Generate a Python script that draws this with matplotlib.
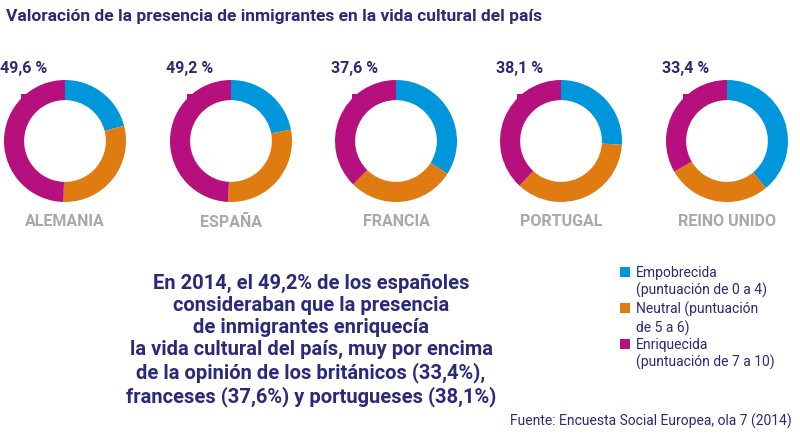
import matplotlib.pyplot as plt
from matplotlib.patches import Rectangle

plt.rcParams["font.family"] = ["Roboto", "DejaVu Sans"]

countries = ["ALEMANIA", "ESPAÑA", "FRANCIA", "PORTUGAL", "REINO UNIDO"]
empobrecida = [21.0, 22.0, 34.0, 26.0, 39.0]
enriquecida = [49.6, 49.2, 37.6, 38.1, 33.4]
neutral = [100 - a - b for a, b in zip(empobrecida, enriquecida)]
pct_labels = ["49,6 %", "49,2 %", "37,6 %", "38,1 %", "33,4 %"]

BLUE = "#0096dc"
ORANGE = "#e07b12"
MAGENTA = "#b5107e"
NAVY = "#2b2979"
GREY = "#a9a9a9"

W, H = 800, 441
fig = plt.figure(figsize=(8, 4.41), dpi=100)
ax = fig.add_axes([0, 0, 1, 1])


def Y(y):
    return H - y


fig.text(6 / W, 1 - 16 / H, "Valoración de la presencia de inmigrantes en la vida cultural del país",
         fontsize=12.5, fontweight="bold", color=NAVY, va="center", ha="left")

centers = [65, 231, 396, 561, 727]
cy = 141
r = 61
for i, cx in enumerate(centers):
    ax.pie([empobrecida[i], neutral[i], enriquecida[i]], colors=[BLUE, ORANGE, MAGENTA],
           startangle=90, counterclock=False, radius=r, center=(cx, Y(cy)),
           wedgeprops=dict(width=r * 0.33, linewidth=0), frame=True)
    ax.add_patch(Rectangle((cx - 44, Y(104)), 5, 10, color=MAGENTA, lw=0))
    ax.text(cx - 65, Y(68), pct_labels[i], fontsize=11.5, fontweight="bold", color=NAVY,
            ha="left", va="center")
    ax.text(cx, Y(222), countries[i], fontsize=11.5, fontweight="bold", color=GREY,
            ha="center", va="center")
ax.set_xlim(0, W)
ax.set_ylim(0, H)
ax.set_aspect("auto")
ax.axis("off")

body = ("En 2014, el 49,2% de los españoles\nconsideraban que la presencia\n"
        "de inmigrantes enriquecía\nla vida cultural del país, muy por encima\n"
        "de la opinión de los británicos (33,4%),\nfranceses (37,6%) y portugueses (38,1%)")
ax.text(311, Y(340), body, fontsize=14.5, fontweight="bold", color=NAVY,
        ha="center", va="center", linespacing=1.2)

legend_items = [(BLUE, "Empobrecida\n(puntuación de 0 a 4)", 267),
                (ORANGE, "Neutral (puntuación\nde 5 a 6)", 303),
                (MAGENTA, "Enriquecida\n(puntuación de 7 a 10)", 339)]
for col, lab, y in legend_items:
    ax.add_patch(Rectangle((620, Y(y) - 10), 10, 10, color=col, lw=0))
    ax.text(636, Y(y) + 1, lab, fontsize=10, color=NAVY, ha="left", va="top",
            linespacing=1.25)

ax.text(792, Y(421), "Fuente: Encuesta Social Europea, ola 7 (2014)", fontsize=10,
        color=NAVY, ha="right", va="center")

fig.savefig("out.png", dpi=100)
